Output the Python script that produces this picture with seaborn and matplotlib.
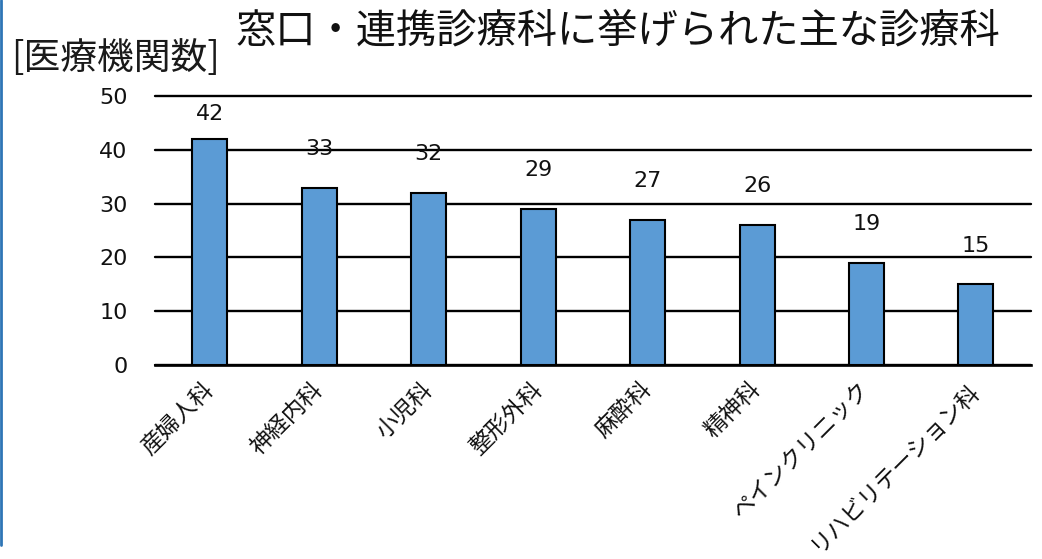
import matplotlib
matplotlib.use("Agg")
import matplotlib.pyplot as plt
from matplotlib.lines import Line2D
import seaborn as sns
import pandas as pd

# 診療科ごとの医療機関数
departments = ["産婦人科", "神経内科", "小児科", "整形外科", "麻酔科", "精神科",
               "ペインクリニック", "リハビリテーション科"]
counts = [42, 33, 32, 29, 27, 26, 19, 15]
y_ticks = [0, 10, 20, 30, 40, 50]

title_text = "窓口・連携診療科に挙げられた主な診療科"
unit_text = "[医療機関数]"

sns.set_theme(style="white")
plt.rcParams["font.family"] = ["Noto Sans CJK JP", "DejaVu Sans"]
num_font = ["DejaVu Sans"]

df = pd.DataFrame({"department": departments, "count": counts})

fig = plt.figure(figsize=(10.42, 5.59), dpi=100)
ax = fig.add_axes([0.149, 0.347, 0.840, 0.481])

sns.barplot(data=df, x="department", y="count", color="#5B9BD5", saturation=1,
            edgecolor="black", linewidth=1.5, width=0.32, ax=ax, zorder=3)

ax.set_ylim(0, 50)
ax.set_xlim(-0.5, len(departments) - 0.5)
ax.set_yticks(y_ticks)
ax.yaxis.grid(True, color="black", linewidth=1.7, zorder=0)
ax.set_axisbelow(True)
for gl in ax.get_ygridlines():
    gl.set_clip_on(False)
for side in ["left", "right", "top"]:
    ax.spines[side].set_visible(False)
ax.spines["bottom"].set_color("black")
ax.spines["bottom"].set_linewidth(1.9)
ax.tick_params(axis="y", length=0, pad=20, labelsize=16, labelcolor="#111111")
ax.tick_params(axis="x", length=0, pad=15, labelsize=16.5, labelcolor="#111111")
for lbl in ax.get_yticklabels():
    lbl.set_family(num_font)
plt.setp(ax.get_xticklabels(), rotation=45, ha="right", va="center",
         rotation_mode="anchor")
ax.set_xlabel("")
ax.set_ylabel("")

# 値ラベル（上端付近は軸内に収める）
for i, v in enumerate(counts):
    ax.text(i, min(v + 7.2, 46.6), f"{v}", ha="center", va="center",
            fontsize=16, family=num_font, color="#111111", zorder=4)

fig.text(0.593, 0.945, title_text, ha="center", va="center", fontsize=29, color="#111111")
fig.text(0.011, 0.896, unit_text, ha="left", va="center", fontsize=26.5, color="#1a1a1a")

# 左端の縦線
fig.add_artist(Line2D([0.001, 0.001], [0.025, 1.0], transform=fig.transFigure,
                      color="#2E75B6", linewidth=2))

fig.savefig("out.png", dpi=100, facecolor="white")
